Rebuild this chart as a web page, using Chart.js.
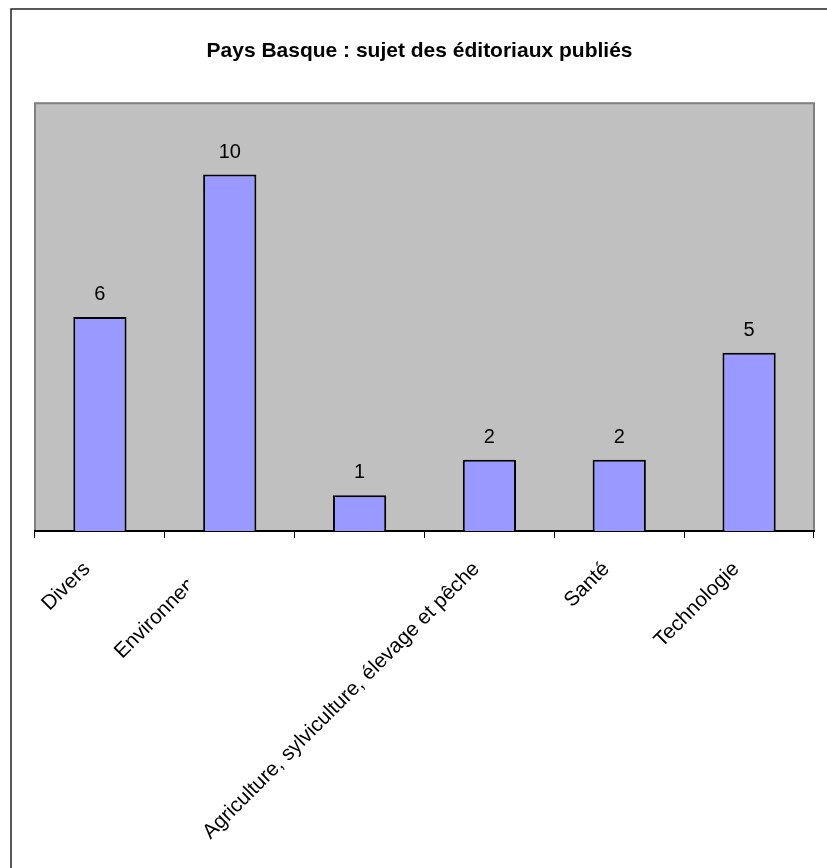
<!DOCTYPE html>
<html>
<head>
<meta charset="utf-8">
<script src="https://cdn.jsdelivr.net/npm/chart.js@4/dist/chart.umd.min.js"></script>
<style>
  html, body { margin: 0; padding: 0; background: #ffffff; }
  canvas { display: block; }
</style>
</head>
<body>
<canvas id="c" width="827" height="868"></canvas>
<script>
const chartTitle = 'Pays Basque : sujet des éditoriaux publiés';
// category labels as shown on the x axis (the 3rd category shows no label in the original)
const categories = ['Divers', 'Environnement', '', 'Agriculture, sylviculture, élevage et pêche', 'Santé', 'Technologie'];
const values = [6, 10, 1, 2, 2, 5];
// index of the label that the original shows clipped
const clippedLabelIndex = 1;
const yMin = 0;
const yMax = 12;

const FONT = "'Liberation Sans', Arial, sans-serif";
const TICK_SIZE = 20.7;
const TICK_LEN = 7;
const TICK_PAD = 19;
const LABEL_OFFSET = -13;

Chart.defaults.font.family = FONT;
Chart.defaults.color = '#000000';

const framePlugin = {
  id: 'frame',
  beforeDraw(chart) {
    const ctx = chart.ctx;
    const a = chart.chartArea;
    ctx.save();
    ctx.strokeStyle = '#222222';
    ctx.lineWidth = 1.5;
    ctx.beginPath();
    ctx.moveTo(11, chart.height);
    ctx.lineTo(11, 9);
    ctx.lineTo(chart.width, 9);
    ctx.stroke();
    ctx.fillStyle = '#C0C0C0';
    ctx.fillRect(a.left, a.top, a.right - a.left, a.bottom - a.top);
    ctx.strokeStyle = '#808080';
    ctx.lineWidth = 2;
    ctx.strokeRect(a.left, a.top, a.right - a.left, a.bottom - a.top);
    ctx.restore();
  }
};

const valueLabelPlugin = {
  id: 'valueLabels',
  afterDatasetsDraw(chart) {
    const ctx = chart.ctx;
    const meta = chart.getDatasetMeta(0);
    ctx.save();
    ctx.font = '20px ' + FONT;
    ctx.fillStyle = '#000000';
    ctx.textAlign = 'center';
    ctx.textBaseline = 'alphabetic';
    meta.data.forEach((bar, i) => {
      const v = chart.data.datasets[0].data[i];
      if (v === null || v === undefined) return;
      ctx.fillText(String(v), bar.x, bar.y - 17);
    });
    ctx.restore();
  }
};

// draws the one label that the original shows cut off
const clippedLabelPlugin = {
  id: 'clippedLabel',
  afterDraw(chart) {
    const xs = chart.scales.x;
    const i = clippedLabelIndex;
    const label = chart.data.labels[i];
    const catW = xs.getPixelForTick(1) - xs.getPixelForTick(0);
    const px = xs.getPixelForTick(i) + LABEL_OFFSET;
    const py = xs.top + TICK_LEN + TICK_PAD;
    const clipX = xs.getPixelForTick(i) - 0.32 * catW;
    const ctx = chart.ctx;
    ctx.save();
    ctx.beginPath();
    ctx.rect(0, xs.top + TICK_LEN + 1, clipX, xs.height);
    ctx.clip();
    ctx.translate(px, py);
    ctx.rotate(-Math.PI / 4);
    ctx.font = TICK_SIZE + 'px ' + FONT;
    ctx.fillStyle = '#000000';
    ctx.textAlign = 'right';
    ctx.textBaseline = 'middle';
    ctx.fillText(label, 0, TICK_SIZE * 1.2 / 2 - 12.5);
    ctx.restore();
  }
};

new Chart(document.getElementById('c'), {
  type: 'bar',
  data: {
    labels: categories,
    datasets: [{
      data: values,
      backgroundColor: '#9999FF',
      borderColor: '#000000',
      borderWidth: 2,
      borderSkipped: 'start',
      categoryPercentage: 1.0,
      barPercentage: 0.41
    }]
  },
  options: {
    responsive: false,
    animation: false,
    devicePixelRatio: 1,
    layout: { padding: { left: 25, right: 13, top: 0, bottom: 0 } },
    plugins: {
      legend: { display: false },
      tooltip: { enabled: false },
      title: {
        display: true,
        text: chartTitle,
        color: '#000000',
        font: { size: 21, weight: 'bold' },
        padding: { top: 39, bottom: 39 }
      }
    },
    scales: {
      x: {
        offset: true,
        grid: {
          offset: true,
          drawOnChartArea: false,
          drawTicks: true,
          tickLength: TICK_LEN,
          color: '#000000',
          lineWidth: 1
        },
        border: { display: true, color: '#000000', width: 2 },
        ticks: {
          autoSkip: false,
          minRotation: 45,
          maxRotation: 45,
          padding: TICK_PAD,
          labelOffset: LABEL_OFFSET,
          color: '#000000',
          font: { size: TICK_SIZE },
          callback(value, index) {
            return index === clippedLabelIndex ? '' : this.getLabelForValue(value);
          }
        },
        afterFit(scale) { scale.height = 337; }
      },
      y: {
        min: yMin,
        max: yMax,
        grid: { display: false },
        border: { display: false },
        ticks: { display: false },
        afterFit(scale) { scale.width = 10; }
      }
    }
  },
  plugins: [framePlugin, valueLabelPlugin, clippedLabelPlugin]
});
</script>
</body>
</html>
